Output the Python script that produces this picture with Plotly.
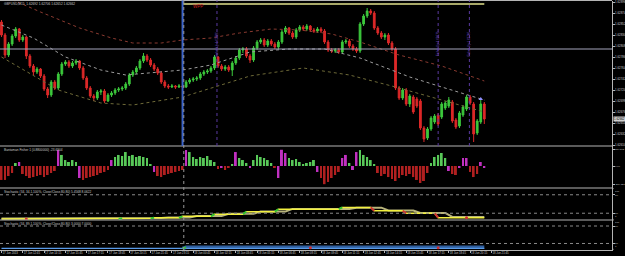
import plotly.graph_objects as go

W, H = 625, 256
BASE = 1.62000
PT = 0.00001

# ---------------- price candles (points above 1.62000) ----------------
OPEN_PTS = [856,830,790,812,828,842,820,826,788,768,
            756,762,748,722,710,736,724,752,772,776,
            768,774,778,764,744,724,708,704,716,718,
            698,710,714,720,722,724,732,750,756,764,
            778,788,780,770,762,754,736,728,726,728,
            726,728,726,736,740,742,744,752,756,758,
            764,786,768,762,766,760,774,784,800,802,
            788,780,804,816,820,810,818,812,806,816,
            836,844,834,826,840,846,842,848,840,838,
            842,838,816,800,798,800,796,816,818,808,
            802,798,852,868,878,874,844,834,826,830,
            814,802,724,704,720,692,706,702,698,644,
            624,642,656,670,666,684,688,696,660,648,
            670,682,706,692,634,656,692]
HIGH_PTS = [860,834,816,832,846,844,830,828,792,772,
            766,764,752,726,740,740,756,776,780,780,
            778,782,780,768,748,728,712,720,722,722,
            714,718,724,726,728,736,754,760,768,782,
            794,792,784,774,766,758,740,732,732,730,
            732,732,740,744,746,748,756,760,762,768,
            790,788,772,770,770,778,788,804,806,806,
            792,808,820,824,824,822,822,816,820,840,
            848,846,838,844,850,850,852,850,844,846,
            846,842,820,804,804,804,820,822,822,812,
            806,856,872,884,882,878,848,838,834,834,
            818,806,728,724,724,712,710,706,702,648,
            646,668,672,674,696,698,706,700,664,678,
            690,710,710,696,662,700,696]
LOW_PTS = [826,784,786,808,824,816,816,782,764,750,
           752,744,718,704,706,720,720,748,768,764,
           764,770,760,740,720,704,698,700,710,694,
           696,706,710,716,718,720,728,746,752,760,
           774,776,766,758,750,732,724,722,724,722,
           724,722,724,732,736,738,740,748,752,754,
           760,764,758,758,756,748,770,780,794,784,
           774,776,800,812,806,806,808,802,802,812,
           832,830,822,822,836,838,838,836,834,834,
           834,812,796,794,794,792,792,812,804,798,
           794,794,848,864,870,840,830,822,820,810,
           798,720,700,700,688,686,672,684,640,616,
           620,638,652,648,662,680,684,654,642,644,
           666,678,690,616,630,652,652]
CLOSE_PTS = [830,790,812,828,842,820,826,788,768,756,
             762,748,722,710,736,724,752,772,776,768,
             774,778,764,744,724,708,704,716,718,698,
             710,714,720,722,724,732,750,756,764,778,
             788,780,770,762,754,736,728,726,728,726,
             728,726,736,740,742,744,752,756,758,764,
             786,768,762,766,760,774,784,800,802,788,
             780,804,816,820,810,818,812,806,816,836,
             844,834,826,840,846,842,848,840,838,842,
             838,816,800,798,800,796,816,818,808,802,
             798,852,868,878,874,844,834,826,830,814,
             802,724,704,720,692,708,676,688,644,622,
             642,664,668,652,692,694,700,658,646,674,
             686,706,694,632,658,692,662]

# envelope bands (bar index, points)
BAND_UP_BARS = [0, 11, 22, 31, 37, 45, 51, 59, 67, 76, 84, 93, 101, 112, 124, 136]
BAND_UP_PTS = [910, 876, 844, 824, 814, 814, 820, 824, 834, 842, 840, 832, 816, 790, 768, 738]
BAND_MID_BARS = [0, 9, 18, 28, 35, 42, 51, 59, 70, 81, 91, 101, 115, 124, 136]
BAND_MID_PTS = [850, 824, 786, 760, 750, 754, 760, 770, 796, 802, 802, 784, 746, 726, 700]
BAND_LOW_BARS = [0, 16, 28, 37, 51, 59, 70, 85, 98, 111, 124, 136]
BAND_LOW_PTS = [786, 720, 694, 690, 706, 724, 748, 764, 750, 726, 700, 676]

PRICE_TICK_PTS = [896, 874, 852, 830, 808, 786, 764, 742, 720, 698, 676, 654, 632, 610]
HLINE_GRAY_PTS = 802
HLINE_OLIVE_PTS = 892
HLINE_OLIVE_BARS = [51, 136]
BLUE_VLINE_BAR = 51
PURPLE_VLINE_BARS = [60.7, 123, 131.8]
PURPLE_VLINE_TEXT = ["Fisher Up 1.62786", "Fisher Up 1.62670", "Fisher Up 1.62706"]
WPP_BAR, WPP_PTS = 53.5, 888
ARROW_BAR, ARROW_PTS = 135, 702

# ---------------- Fisher histogram ----------------
FISHER = [-215,-215,-154,-108,46,62,-123,-154,-185,-170,
          -154,-139,-170,-139,-108,-77,246,170,92,62,
          92,62,-185,-215,-185,-170,-154,-139,-108,-92,
          -62,92,139,170,154,215,154,170,139,154,
          139,123,31,-92,-154,-170,-139,-123,-108,-92,
          -77,-62,246,215,139,108,139,123,154,92,
          62,-46,-31,-62,-31,31,215,123,92,46,
          -31,92,170,139,123,92,46,-31,-185,250,
          200,123,92,108,62,31,46,62,92,-92,
          -185,-280,-246,-185,-139,-92,123,170,46,-62,
          215,246,170,139,92,31,-108,-154,-123,-170,
          -200,-231,-185,-139,-154,-123,-170,-215,-262,-231,
          -108,46,139,170,200,123,-77,-123,-139,-31,
          123,123,-92,-170,-123,62,-31]
FISHER_SIGNAL_BARS = [5,16,22,31,43,52,62,66,70,78,79,80,89,96,97,99,100,126,129,130,131,135,136]
FISHER_TICKS = [254.872, 0.0, -284.321]
FISHER_TICKTEXT = ["254.872", "0.00", "-284.321"]

# ---------------- Stochastics (bar, value knots) ----------------
ST1_BARS = [0,33,34,42,43,50,51,59,60,68,69,77,78,95,96,104,105,113,114,122,123,136]
ST1_VALS = [1.5,1.5,3.5,3.5,5,5,10,10,17,17,25,25,33,33,39,39,28,28,20,20,5.5,5.5]
ST1_SIG_BARS = [0,35,37,45,47,53,55,62,64,71,73,80,82,98,100,107,109,116,118,125,127,136]
ST1_SIG_VALS = [2.5,2.5,4.5,4.5,6,6,11,11,18,18,26,26,34,34,38,38,29,29,21,21,8,8]
ST1_RED_DOTS = [(7, 1.5), (131, 5.5)]
ST2_BARS = [0, 136]
ST2_VALS = [3, 3]
ST2_SIG_BARS = [51, 52, 136]
ST2_SIG_VALS = [3, 7, 7]
ST2_RED_DOTS = [(87, 5), (123, 5)]
STOCH_LEVELS = [80, 20]
STOCH_EDGES = [100, 0]

TIME_LABELS = ["17 Jun 2013","17 Jun 12:45","17 Jun 14:15","17 Jun 15:45","17 Jun 17:15",
               "17 Jun 18:45","17 Jun 20:15","17 Jun 21:45","17 Jun 23:15","18 Jun 00:45",
               "18 Jun 02:15","18 Jun 03:45","18 Jun 05:15","18 Jun 06:45","18 Jun 08:15",
               "18 Jun 09:45","18 Jun 11:15","18 Jun 12:45","18 Jun 14:15","18 Jun 15:45",
               "18 Jun 17:15","18 Jun 18:45","18 Jun 20:15","18 Jun 21:45"]
LABEL_EVERY = 6

TITLE_MAIN = "GBPUSD,M15  1.62692 1.62706 1.62652 1.62662"
TITLE_FISHER = "Bantaman Fisher 1 (0.8800000) -23.6904"
TITLE_ST1 = "Stochastic (34, 34,1,100%, Close/Close,80,80) 5.4568 8.0622"
TITLE_ST2 = "Stochastic (34, 89,1,100%, Close/Close,80,80) 3.0000 7.0000"

# ---------------- layout helpers ----------------
def py(px):
    return 1 - px / H

XDOM = [0, 612 / W]
XR = [-0.42, 171.97]
GRAY = "#b4b4b4"
TXT = "#c8c8c8"
FONT = "Liberation Sans"
RFS = 2.9   # price-axis label size
SFS = 2.5   # indicator-axis label size

def P(pts):
    return BASE + pts * PT

n = len(CLOSE_PTS)
bars = list(range(n))

fig = go.Figure()

for bx, bp, col in [(BAND_UP_BARS, BAND_UP_PTS, "#8a3a30"),
                    (BAND_MID_BARS, BAND_MID_PTS, "#9c9c9c"),
                    (BAND_LOW_BARS, BAND_LOW_PTS, "#6e6a38")]:
    fig.add_trace(go.Scatter(x=bx, y=[P(v) for v in bp], mode="lines",
                             line=dict(color=col, width=1, dash="dot"),
                             xaxis="x", yaxis="y", hoverinfo="skip"))

fig.add_trace(go.Candlestick(
    x=bars, open=[P(v) for v in OPEN_PTS], high=[P(v) for v in HIGH_PTS],
    low=[P(v) for v in LOW_PTS], close=[P(v) for v in CLOSE_PTS],
    increasing=dict(line=dict(color="#3cc83c", width=1), fillcolor="#3cc83c"),
    decreasing=dict(line=dict(color="#dc2828", width=1), fillcolor="#dc2828"),
    whiskerwidth=0, xaxis="x", yaxis="y"))

fig.add_trace(go.Scatter(x=[ARROW_BAR], y=[P(ARROW_PTS)], mode="markers",
                         marker=dict(symbol="triangle-up", size=4, color="#9090ff"),
                         xaxis="x", yaxis="y"))

fcol = []
for i, v in enumerate(FISHER):
    if i in FISHER_SIGNAL_BARS:
        fcol.append("#c030c0")
    elif v >= 0:
        fcol.append("#58c858")
    else:
        fcol.append("#b02020")
fig.add_trace(go.Bar(x=bars, y=FISHER, marker=dict(color=fcol, line=dict(width=0)),
                     width=0.55, xaxis="x2", yaxis="y2"))

def segs(bx, vals):
    ups_x, ups_y, dn_x, dn_y = [], [], [], []
    for k in range(len(bx) - 1):
        if vals[k + 1] > vals[k]:
            ups_x += [bx[k], bx[k + 1], None]; ups_y += [vals[k], vals[k + 1], None]
        elif vals[k + 1] < vals[k]:
            dn_x += [bx[k], bx[k + 1], None]; dn_y += [vals[k], vals[k + 1], None]
    return (ups_x, ups_y), (dn_x, dn_y)

fig.add_trace(go.Scatter(x=ST1_SIG_BARS, y=ST1_SIG_VALS, mode="lines",
                         line=dict(color="#b8b47a", width=2), xaxis="x3", yaxis="y3"))
fig.add_trace(go.Scatter(x=ST1_BARS, y=ST1_VALS, mode="lines",
                         line=dict(color="#f2f040", width=1.5), xaxis="x3", yaxis="y3"))
(ux, uy), (dx, dy) = segs(ST1_BARS, ST1_VALS)
fig.add_trace(go.Scatter(x=ux, y=uy, mode="lines", line=dict(color="#30c030", width=2),
                         xaxis="x3", yaxis="y3"))
fig.add_trace(go.Scatter(x=dx, y=dy, mode="lines", line=dict(color="#d03030", width=2),
                         xaxis="x3", yaxis="y3"))
fig.add_trace(go.Scatter(x=[d[0] for d in ST1_RED_DOTS], y=[d[1] for d in ST1_RED_DOTS],
                         mode="markers", marker=dict(color="#d03030", size=3),
                         xaxis="x3", yaxis="y3"))

fig.add_trace(go.Scatter(x=ST2_SIG_BARS, y=ST2_SIG_VALS, mode="lines",
                         line=dict(color="#2f5f9f", width=3.5), xaxis="x4", yaxis="y4"))
fig.add_trace(go.Scatter(x=ST2_BARS, y=ST2_VALS, mode="lines",
                         line=dict(color="#5a9ae8", width=1.3), xaxis="x4", yaxis="y4"))
(ux, uy), (dx, dy) = segs(ST2_SIG_BARS, ST2_SIG_VALS)
fig.add_trace(go.Scatter(x=ux, y=uy, mode="lines", line=dict(color="#30c030", width=2),
                         xaxis="x4", yaxis="y4"))
fig.add_trace(go.Scatter(x=[d[0] for d in ST2_RED_DOTS], y=[d[1] for d in ST2_RED_DOTS],
                         mode="markers", marker=dict(color="#d03030", size=3),
                         xaxis="x4", yaxis="y4"))

yax_common = dict(side="right", showline=True, linecolor=GRAY, linewidth=1,
                  ticks="outside", ticklen=1.5, tickcolor=GRAY, showgrid=False,
                  zeroline=False, fixedrange=True, automargin=False,
                  ticklabelstandoff=0)
xax_common = dict(range=XR, domain=XDOM, showgrid=False, zeroline=False,
                  showticklabels=False, ticks="", showline=False, automargin=False)
sfont = dict(size=SFS, color=TXT, family=FONT)

layout = dict(
    width=W, height=H, margin=dict(l=0, r=0, t=0, b=0, autoexpand=False),
    paper_bgcolor="#000000", plot_bgcolor="#000000", showlegend=False,
    xaxis=dict(**xax_common, anchor="y", rangeslider=dict(visible=False)),
    xaxis2=dict(**xax_common, anchor="y2", matches="x"),
    xaxis3=dict(**xax_common, anchor="y3", matches="x"),
    xaxis4=dict(range=XR, domain=XDOM, showgrid=False, zeroline=False, anchor="y4",
                matches="x", showline=True, linecolor=GRAY, ticks="outside", ticklen=2,
                tickcolor=GRAY, tickvals=[LABEL_EVERY * k for k in range(len(TIME_LABELS))],
                ticktext=TIME_LABELS, ticklabelposition="outside right", tickangle=0,
                automargin=False, ticklabelstandoff=0,
                tickfont=dict(size=2.8, color=TXT, family=FONT)),
    yaxis=dict(**yax_common, domain=[py(146), py(1)], range=[P(608), P(898)], anchor="x",
               tickfont=dict(size=RFS, color=TXT, family=FONT),
               tickvals=[P(v) for v in PRICE_TICK_PTS],
               ticktext=["%.5f" % P(v) for v in PRICE_TICK_PTS]),
    yaxis2=dict(**yax_common, domain=[py(188), py(146)], range=[-338.8, 308], anchor="x2",
                tickfont=sfont, tickvals=FISHER_TICKS, ticktext=FISHER_TICKTEXT),
    yaxis3=dict(**yax_common, domain=[py(220), py(188)], range=[-2, 102], anchor="x3",
                tickfont=sfont, tickvals=STOCH_LEVELS, ticktext=[str(v) for v in STOCH_LEVELS]),
    yaxis4=dict(**yax_common, domain=[py(250), py(220)], range=[-2.4, 100.6], anchor="x4",
                tickfont=sfont, tickvals=STOCH_LEVELS, ticktext=[str(v) for v in STOCH_LEVELS]),
)
fig.update_layout(**layout)

shapes = []
for px in [0.5, 146, 188, 220]:
    shapes.append(dict(type="line", xref="paper", yref="paper", x0=0, x1=XDOM[1],
                       y0=py(px), y1=py(px), line=dict(color=GRAY, width=1.2)))
for yr, xr in [("y3", "x3 domain"), ("y4", "x4 domain")]:
    for lv in STOCH_LEVELS:
        shapes.append(dict(type="line", xref=xr, yref=yr, x0=0, x1=1, y0=lv, y1=lv,
                           line=dict(color="#8a8a8a", width=1, dash="dot")))
    # small tick marks at 100 / 0 on the right axis
    for lv in STOCH_EDGES:
        shapes.append(dict(type="line", xref="paper", yref=yr, x0=XDOM[1], x1=XDOM[1] + 1.5 / W,
                           y0=lv, y1=lv, line=dict(color=GRAY, width=1)))
shapes.append(dict(type="line", xref="x domain", yref="y", x0=0, x1=1,
                   y0=P(HLINE_GRAY_PTS), y1=P(HLINE_GRAY_PTS),
                   line=dict(color="#a4a4bc", width=1)))
shapes.append(dict(type="line", xref="x", yref="y", x0=HLINE_OLIVE_BARS[0], x1=HLINE_OLIVE_BARS[1],
                   y0=P(HLINE_OLIVE_PTS), y1=P(HLINE_OLIVE_PTS),
                   line=dict(color="#a8a868", width=2)))
shapes.append(dict(type="line", xref="x", yref="paper", x0=BLUE_VLINE_BAR, x1=BLUE_VLINE_BAR,
                   y0=py(146), y1=py(0.5), line=dict(color="#3a62c8", width=2)))
shapes.append(dict(type="line", xref="x", yref="paper", x0=BLUE_VLINE_BAR + 0.35,
                   x1=BLUE_VLINE_BAR + 0.35, y0=py(250), y1=py(0.5),
                   line=dict(color="#9a9a9a", width=1, dash="dot")))
for b in PURPLE_VLINE_BARS:
    shapes.append(dict(type="line", xref="x", yref="paper", x0=b, x1=b,
                       y0=py(146), y1=py(0.5),
                       line=dict(color="#5a3aa0", width=1, dash="dot")))
fig.update_layout(shapes=shapes)

ann = []
for txt, px in [(TITLE_MAIN, 3.5), (TITLE_FISHER, 150), (TITLE_ST1, 191.5), (TITLE_ST2, 223.5)]:
    ann.append(dict(text=txt, xref="paper", yref="paper", x=2 / W, y=py(px), xanchor="left",
                    yanchor="middle", showarrow=False,
                    font=dict(size=3.2, color=TXT, family=FONT)))
# 100 / 0 labels of the stochastic panels, kept inside their panels as MT4 does
for yr in ["y3", "y4"]:
    for v, ya in zip(STOCH_EDGES, ["top", "bottom"]):
        ann.append(dict(text=str(v), xref="paper", yref=yr, x=XDOM[1] + 1.8 / W, y=v,
                        xanchor="left", yanchor=ya, showarrow=False, borderpad=0,
                        font=sfont))
ann.append(dict(text="WPP", xref="x", yref="y", x=WPP_BAR, y=P(WPP_PTS), xanchor="left",
                yanchor="middle", showarrow=False,
                font=dict(size=4.5, color="#d02020", family=FONT)))
for b, t in zip(PURPLE_VLINE_BARS, PURPLE_VLINE_TEXT):
    ann.append(dict(text=t, xref="x", yref="y", x=b, y=P(812), textangle=-90,
                    xanchor="center", yanchor="middle", showarrow=False,
                    font=dict(size=3, color="#7a50d0", family=FONT)))
ann.append(dict(text="%.5f" % P(CLOSE_PTS[-1]), xref="paper", yref="y", x=XDOM[1] + 0.5 / W,
                y=P(CLOSE_PTS[-1]), xanchor="left", yanchor="middle", showarrow=False,
                bgcolor="#d0d0d0", borderpad=0,
                font=dict(size=RFS, color="#000000", family=FONT)))
fig.update_layout(annotations=ann)

fig.write_html("out.html")
